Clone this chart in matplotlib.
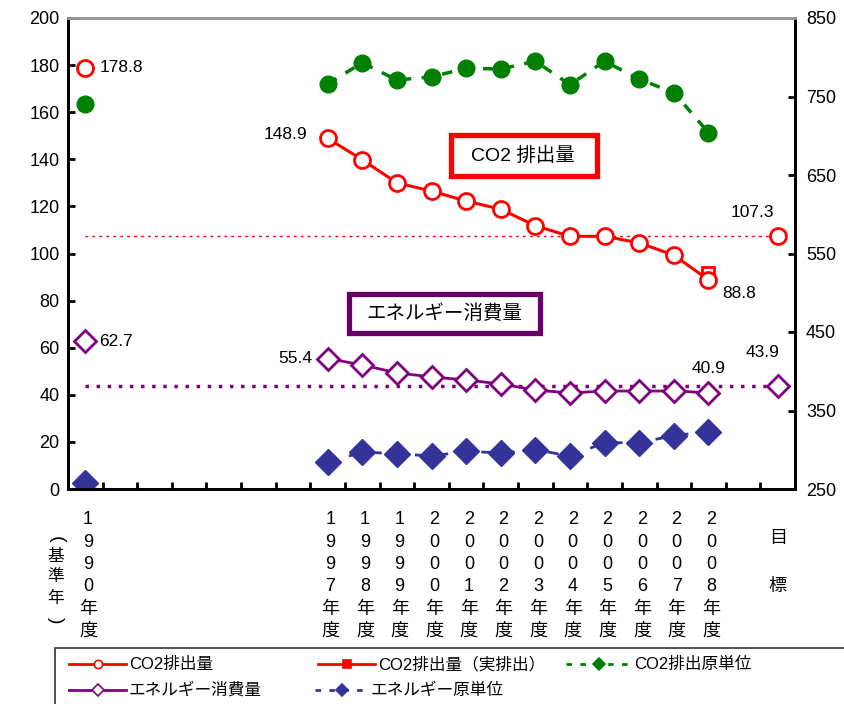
import matplotlib
matplotlib.use("Agg")
import matplotlib.pyplot as plt
from matplotlib.patches import Rectangle
import numpy as np

plt.rcParams['font.family'] = ['Liberation Sans', 'Noto Sans CJK JP', 'DejaVu Sans']

# categories: 1990 (base), 1991-1996 empty, 1997-2008, empty, target
years = ['1990', '', '', '', '', '', '', '1997', '1998', '1999', '2000', '2001', '2002',
         '2003', '2004', '2005', '2006', '2007', '2008', '', '目標']
nan = np.nan
co2 = [178.8, nan, nan, nan, nan, nan, nan, 148.9, 139.8, 130.0, 126.5, 122.3, 118.8,
       111.8, 107.3, 107.3, 104.5, 99.3, 88.8, nan, 107.3]
co2_actual = [nan] * 18 + [91.6, nan, nan]
energy = [62.7, nan, nan, nan, nan, nan, nan, 55.4, 52.7, 49.3, 47.6, 46.3, 44.6,
          42.0, 40.8, 41.6, 41.6, 41.6, 40.9, nan, 43.9]
co2_intensity = [740, nan, nan, nan, nan, nan, nan, 766, 793, 771, 775, 786, 785,
                 795, 765, 795, 772, 755, 704, nan, nan]
energy_intensity = [258, nan, nan, nan, nan, nan, nan, 284, 297, 295, 292, 298, 296,
                    300, 292, 309, 309, 318, 323, nan, nan]
co2_target = 107.3
energy_target = 43.9

RED = '#FF0000'
GREEN = '#008000'
PURPLE = '#800080'
BOXPURPLE = '#660066'
BLUE = '#333399'

fig = plt.figure(figsize=(8.44, 7.04), dpi=100)
ax = fig.add_axes([68/844, 1-489/704, (795-68)/844, (489-18)/704])
ax2 = ax.twinx()
ax.set_zorder(ax2.get_zorder() + 1)
ax.patch.set_visible(False)

x = np.arange(len(years))
n = len(years)

# right axis series
ax2.plot(x, co2_intensity, color=GREEN, lw=2.5, ls=(0, (3, 3)), marker='o', ms=12,
         mfc=GREEN, mec=GREEN, zorder=3)
ax2.plot(x, energy_intensity, color=BLUE, lw=2.0, ls=(0, (4, 4)), marker='D', ms=13,
         mfc=BLUE, mec=BLUE, zorder=3)
ax2.set_ylim(250, 850)
ax2.set_yticks(np.arange(250, 851, 100))

# target reference lines
ax.hlines(co2_target, 0, n - 1, colors=RED, lw=1, linestyles=(0, (2, 3)), zorder=1)
ax.hlines(energy_target, 0, n - 1, colors=PURPLE, lw=2.5, linestyles=(0, (1, 2.2)), zorder=1)

# left axis series
ax.plot(x, co2, color=RED, lw=2.2, marker='o', ms=11.5, mfc='white', mec=RED, mew=2, zorder=4)
ax.plot(x, co2_actual, color=RED, lw=2.2, marker='s', ms=9, mfc='white', mec=RED, mew=2, zorder=3)
ax.plot(x, energy, color=PURPLE, lw=2, marker='D', ms=11, mfc='white', mec=PURPLE, mew=2, zorder=4)

ax.set_xlim(-0.5, n - 0.5)
ax.set_ylim(0, 200)
ax.set_yticks(np.arange(0, 201, 20))
ax.set_xticks(np.arange(0.5, n - 1, 1))
ax.set_xticklabels([])

for a in (ax, ax2):
    a.tick_params(direction='in', length=5, width=2, labelsize=13, colors='black')
    for s in ('left', 'right', 'bottom'):
        a.spines[s].set_linewidth(2)
        a.spines[s].set_color('black')
    a.spines['top'].set_color('#999999')
    a.spines['top'].set_linewidth(2)
ax.tick_params(axis='y', pad=6)
ax2.tick_params(axis='y', pad=8)

# data labels
lab = dict(fontsize=12.5, color='black')
ax.annotate(f'{co2[0]}', (0, co2[0]), xytext=(14, 0), textcoords='offset pixels', ha='left', va='center', **lab)
ax.annotate(f'{co2[7]}', (7, co2[7]), xytext=(-20, 4), textcoords='offset pixels', ha='right', va='center', **lab)
ax.annotate(f'{co2[18]}', (18, co2[18]), xytext=(14, -14), textcoords='offset pixels', ha='left', va='center', **lab)
ax.annotate(f'{co2[20]}', (20, co2[20]), xytext=(-25, 24), textcoords='offset pixels', ha='center', va='center', **lab)
ax.annotate(f'{energy[0]}', (0, energy[0]), xytext=(14, 0), textcoords='offset pixels', ha='left', va='center', **lab)
ax.annotate(f'{energy[7]}', (7, energy[7]), xytext=(-15, 0), textcoords='offset pixels', ha='right', va='center', **lab)
ax.annotate(f'{energy[18]}', (18, energy[18]), xytext=(0, 24), textcoords='offset pixels', ha='center', va='center', **lab)
ax.annotate(f'{energy[20]}', (20, energy[20]), xytext=(-15, 33), textcoords='offset pixels', ha='center', va='center', **lab)

# boxed series titles
ax.add_patch(Rectangle((10.56, 132.9), 4.22, 17.4, fc='white', ec=RED, lw=3.8, zorder=5))
ax.text(12.63, 141.6, 'CO2 排出量', fontsize=14, ha='center', va='center', zorder=6)
ax.add_patch(Rectangle((7.62, 66.2), 5.51, 16.6, fc='white', ec=BOXPURPLE, lw=3.8, zorder=5))
ax.text(10.38, 74.5, 'エネルギー消費量', fontsize=14, ha='center', va='center', zorder=6)

# vertical category labels
tr = ax.get_xaxis_transform()
def py(p):
    return (489 - p) / 471
for i, yr in enumerate(years):
    if not yr:
        continue
    if yr == '目標':
        ax.text(i, py(538), '目', transform=tr, ha='center', va='center', fontsize=13)
        ax.text(i, py(586), '標', transform=tr, ha='center', va='center', fontsize=13)
        continue
    chars = list(yr) + ['年', '度']
    for j, c in enumerate(chars):
        ax.text(i + 0.08, py(520 + 22.3 * j), c, transform=tr, ha='center', va='center', fontsize=13)
ax.text(-0.85, py(539), '(', transform=tr, ha='center', va='center', fontsize=14, rotation=-90)
for j, c in enumerate(['基', '準', '年']):
    ax.text(-0.85, py(556 + 21 * j), c, transform=tr, ha='center', va='center', fontsize=12)
ax.text(-0.85, py(620), ')', transform=tr, ha='center', va='center', fontsize=14, rotation=-90)

# legend (drawn by hand in pixel coordinates)
lg = fig.add_axes([0, 0, 1, 1])
lg.set_xlim(0, 844)
lg.set_ylim(704, 0)
lg.axis('off')
lg.patch.set_visible(False)
lg.add_patch(Rectangle((55, 648), 800, 70, fc='white', ec='#333333', lw=1.2))
lfs = 12
entries = [
    (69, 126, 664, RED, '-', 'o', 'white', RED, 'CO2排出量'),
    (318, 375, 664, RED, '-', 's', RED, RED, 'CO2排出量（実排出）'),
    (566, 631, 664, GREEN, (0, (2, 3)), 'D', GREEN, GREEN, 'CO2排出原単位'),
    (69, 126, 690, PURPLE, '-', 'D', 'white', PURPLE, 'エネルギー消費量'),
    (315, 368, 690, BLUE, (0, (2, 3)), 'D', BLUE, BLUE, 'エネルギー原単位'),
]
for x0, x1, yy, col, ls, mk, mf, me, txt in entries:
    lg.plot([x0, x1], [yy, yy], color=col, lw=2, ls=ls)
    lg.plot([(x0 + x1) / 2], [yy], marker=mk, ms=6, mfc=mf, mec=me, mew=1.2)
    lg.text(x1 + 3, yy, txt, fontsize=lfs, ha='left', va='center')

fig.savefig('out.png', dpi=100)
